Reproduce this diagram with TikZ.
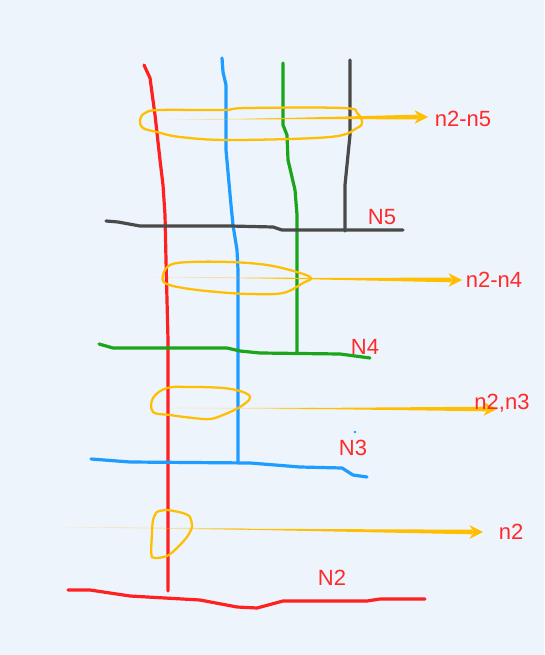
\documentclass[tikz,border=0pt]{standalone}
\usepackage{fontspec}
\setmainfont{Liberation Sans}
\usetikzlibrary{arrows.meta,calc}
\definecolor{bg}{HTML}{EEF4FB}
\definecolor{rd}{HTML}{FF2020}
\definecolor{bl}{HTML}{1E9CFF}
\definecolor{gn}{HTML}{1AA51A}
\definecolor{gy}{HTML}{4A4A4A}
\definecolor{yl}{HTML}{FFBE00}
\definecolor{tx}{HTML}{FF2A2A}
\tikzset{
  wire/.style={line width=2.4pt, line join=round, line cap=round},
  ring/.style={draw=yl, line width=1.7pt, line join=round},
  lbl/.style={text=tx, font=\fontsize{16.5}{19}\selectfont, inner sep=0pt},
  tip/.style={draw=yl, line width=1pt, -{Stealth[length=10pt,width=10pt,inset=3pt]}}
}
\begin{document}
\begin{tikzpicture}[x=0.75pt,y=-0.75pt]
\fill[bg] (0,0) rectangle (544,655);
\useasboundingbox (0,0) rectangle (544,655);
% vertical wires
\draw[wire,rd] (144,65) -- (150,78) -- (155,115) -- (160,160) -- (163,185) -- (165,215) -- (166,260) -- (167,300) -- (168,340) -- (168,591);
\draw[wire,bl] (222,58) -- (223,72) -- (226,85) -- (226,150) -- (231,205) -- (233,225) -- (237,250) -- (238,270) -- (238,462);
\draw[wire,gn] (283,63) -- (283,125) -- (287,135) -- (288,160) -- (295,190) -- (297,215) -- (297,352);
\draw[wire,gy] (350,60) -- (350,135) -- (347,165) -- (345,185) -- (345,231);
% horizontal wires
\draw[wire,gy] (106,221) -- (118,222) -- (140,226) -- (230,226) -- (273,227) -- (282,230) -- (403,230);
\draw[wire,gn] (99,344) -- (113,348) -- (227,348) -- (240,351) -- (260,353) -- (340,354) -- (370,358);
\draw[wire,bl] (91,459) -- (130,462) -- (250,463) -- (300,467) -- (342,468) -- (353,475) -- (367,477);
\fill[bl] (355,432) circle (1.3);
\draw[wire,rd] (68,590) -- (90,590) -- (130,596) -- (200,600) -- (237,607) -- (257,608) -- (283,601) -- (367,601) -- (380,599) -- (425,599);
% labels
\node[lbl] (N5) at (382,217) {N5};
\node[lbl] (N4) at (365,347) {N4};
\node[lbl] (N3) at (353,448) {N3};
\node[lbl] (N2) at (332,578) {N2};
% rings
\draw[ring] plot[smooth cycle, tension=0.6] coordinates {(140,120) (145,113) (160,110) (223,110) (247,108) (343,108) (357,113) (362,122) (357,128) (330,137) (230,140) (180,137) (157,132) (143,128)};
\draw[ring] plot[smooth cycle, tension=0.6] coordinates {(163,275) (170,265) (190,262) (230,262) (267,265) (297,272) (311,278) (303,283) (283,293) (250,294) (217,292) (183,288) (165,283)};
\draw[ring] plot[smooth cycle, tension=0.6] coordinates {(153,398) (167,388) (190,387) (223,388) (243,392) (250,398) (240,407) (223,415) (210,419) (193,418) (170,415) (153,412)};
\draw[ring] plot[smooth cycle, tension=0.4] coordinates {(157,512) (167,510) (183,513) (190,517) (192,527) (187,537) (177,548) (167,556) (152,557) (152,533) (153,520)};
% arrows
\coordinate (s1) at (163,120); \coordinate (e1) at (428,117);
\coordinate (s2) at (152,277); \coordinate (e2) at (462,280);
\coordinate (s3) at (167,408); \coordinate (e3) at (497,409);
\coordinate (s4) at (60,527);  \coordinate (e4) at (483,532);
\foreach \i in {1,2,3,4}{
  \fill[yl, opacity=0.35] (s\i) -- ($(s\i)!0.45!(e\i)+(0,-0.9)$) -- ($(s\i)!0.45!(e\i)+(0,0.9)$) -- cycle;
  \fill[yl] ($(s\i)!0.3!(e\i)$) -- ($(e\i)+(-11,-2.3)$) -- ($(e\i)+(-11,2.3)$) -- cycle;
  \draw[tip] ($(e\i)+(-12,0)$) -- (e\i);
}
\node[lbl] (n25) at (463,119) {n2-n5};
\node[lbl] (n24) at (494,280) {n2-n4};
\node[lbl] (n23) at (502,403) {n2,n3};
\node[lbl] (n2) at (511,532) {n2};
\end{tikzpicture}
\end{document}
